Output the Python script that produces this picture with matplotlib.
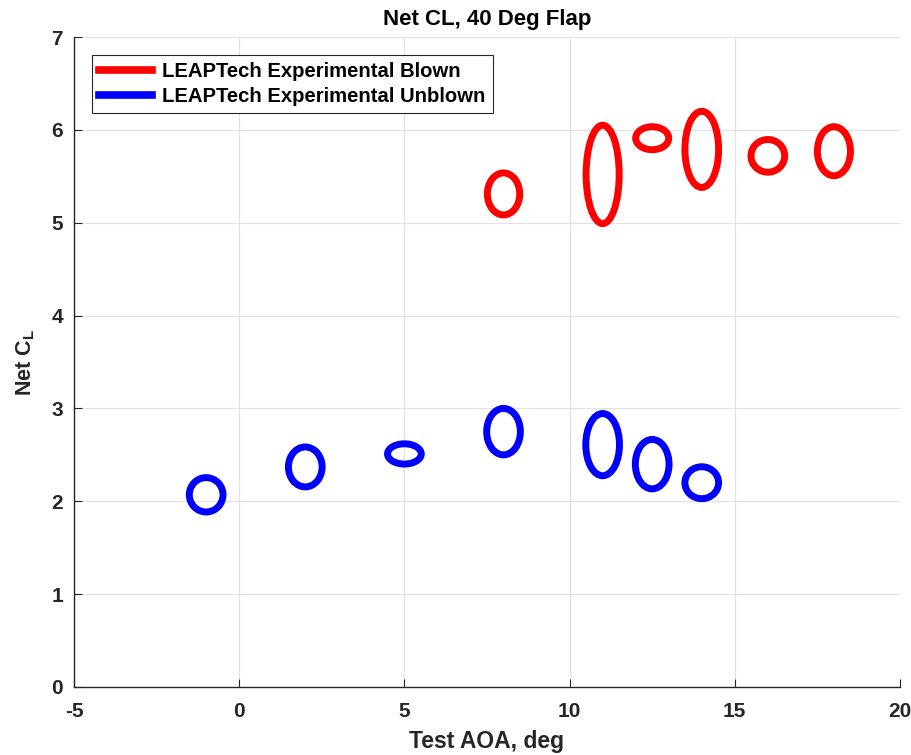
import matplotlib
matplotlib.use("Agg")
import matplotlib.pyplot as plt
from matplotlib.patches import Ellipse
from matplotlib.lines import Line2D

plt.rcParams['font.family'] = ['Liberation Sans', 'DejaVu Sans']
plt.rcParams['font.weight'] = 'bold'
plt.rcParams['axes.unicode_minus'] = False
plt.rcParams['mathtext.fontset'] = 'custom'
plt.rcParams['mathtext.rm'] = 'Liberation Sans:bold'
plt.rcParams['mathtext.bf'] = 'Liberation Sans:bold'
plt.rcParams['mathtext.default'] = 'bf'

# Blown (red)
blown_aoa = [8, 11, 12.5, 14, 16, 18]
blown_cl = [5.31, 5.52, 5.91, 5.79, 5.72, 5.77]
blown_daoa = [0.49, 0.50, 0.50, 0.51, 0.51, 0.50]
blown_dcl = [0.226, 0.53, 0.124, 0.41, 0.176, 0.264]

# Unblown (blue)
unblown_aoa = [-1, 2, 5, 8, 11, 12.5, 14]
unblown_cl = [2.07, 2.37, 2.51, 2.75, 2.61, 2.40, 2.20]
unblown_daoa = [0.51, 0.51, 0.51, 0.51, 0.51, 0.51, 0.51]
unblown_dcl = [0.185, 0.215, 0.109, 0.25, 0.335, 0.266, 0.172]

labels = ["LEAPTech Experimental Blown", "LEAPTech Experimental Unblown"]
colors = ["#ff0000", "#0000ff"]

fig = plt.figure(figsize=(9.12, 7.55), dpi=100)
ax = fig.add_axes([74/912, 68/755, 826/912, 650/755])

lw = 5.0
for xs, ys, dxs, dys, c in [(blown_aoa, blown_cl, blown_daoa, blown_dcl, colors[0]),
                            (unblown_aoa, unblown_cl, unblown_daoa, unblown_dcl, colors[1])]:
    for x, y, dx, dy in zip(xs, ys, dxs, dys):
        ax.add_patch(Ellipse((x, y), 2*dx, 2*dy, fill=False, edgecolor=c, lw=lw, zorder=3))

ax.set_xlim(-5, 20)
ax.set_ylim(0, 7)
ax.set_xticks(range(-5, 21, 5))
ax.set_yticks(range(0, 8))
ax.grid(True, color='#e3e3e3', lw=0.9)
ax.set_axisbelow(True)
for s in ['top', 'right']:
    ax.spines[s].set_visible(False)
for s in ['left', 'bottom']:
    ax.spines[s].set_color('#262626')
    ax.spines[s].set_linewidth(1.0)
ax.tick_params(direction='in', length=6, width=0.8, colors='#262626',
               labelsize=15, labelcolor='#262626')
ax.tick_params(axis='x', pad=11)
ax.tick_params(axis='y', pad=8)
for t in ax.get_xticklabels() + ax.get_yticklabels():
    t.set_fontweight('bold')

ax.set_title("Net CL, 40 Deg Flap", fontsize=16, fontweight='bold', pad=8.5)
ax.set_xlabel("Test AOA, deg", fontsize=16.5, fontweight='bold', labelpad=6.5, color='#262626')
ax.set_ylabel("Net C$_L$", fontsize=15.5, fontweight='bold', labelpad=10, color='#262626')

handles = [Line2D([0], [0], color=c, lw=5.5) for c in colors]
leg = ax.legend(handles, labels, loc='upper left', bbox_to_anchor=(0.022, 0.972),
                prop={'weight': 'bold', 'size': 14.6}, frameon=True,
                fancybox=False, edgecolor='#262626', framealpha=1,
                handlelength=2.6, handletextpad=0.5, borderpad=0.35, labelspacing=0.28,
                borderaxespad=0)
leg.get_frame().set_linewidth(0.8)

fig.savefig("out.png", dpi=100)
